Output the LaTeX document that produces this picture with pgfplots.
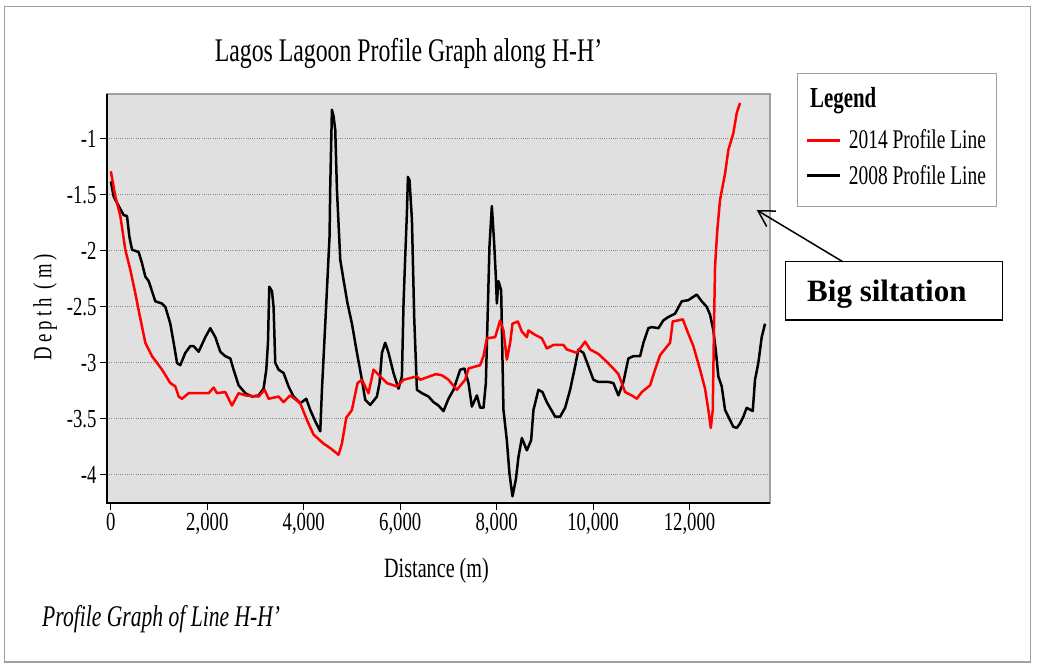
\documentclass[border=0pt]{standalone}
\usepackage{fontspec}
\setmainfont{Liberation Serif}[FakeStretch=0.72]
\newfontfamily\ylabfont{Liberation Serif}[FakeStretch=0.72,LetterSpace=16]
\newfontfamily\boxfont{Liberation Serif}
\usepackage{pgfplots}
\usepackage{pgfplotstable}
\pgfplotsset{compat=1.18}
\usetikzlibrary{arrows.meta}

\definecolor{plotbg}{HTML}{E0E0E0}
\definecolor{framegray}{HTML}{A0A0A0}
\definecolor{gridgray}{HTML}{8C8C8C}

% 2008 profile (black)
\pgfplotstableread{
x y
0 -1.38
58 -1.515
162 -1.60
265 -1.68
335 -1.69
383 -1.87
439 -1.99
576 -2.01
646 -2.11
715 -2.23
784 -2.27
853 -2.36
922 -2.45
1061 -2.47
1130 -2.50
1233 -2.65
1302 -2.82
1372 -3.00
1440 -3.02
1544 -2.91
1648 -2.85
1716 -2.85
1820 -2.90
1959 -2.77
2062 -2.69
2166 -2.77
2269 -2.90
2373 -2.94
2477 -2.96
2545 -3.06
2649 -3.20
2788 -3.27
2926 -3.30
3063 -3.29
3167 -3.23
3223 -3.06
3258 -2.82
3285 -2.32
3341 -2.36
3374 -2.50
3409 -3.00
3478 -3.06
3582 -3.09
3685 -3.21
3789 -3.30
3927 -3.36
4052 -3.32
4135 -3.42
4238 -3.52
4342 -3.61
4377 -3.24
4446 -2.65
4535 -1.87
4549 -1.43
4584 -0.74
4618 -0.80
4653 -0.92
4688 -1.455
4757 -2.08
4825 -2.26
4908 -2.47
4999 -2.65
5103 -2.91
5206 -3.15
5275 -3.33
5378 -3.375
5517 -3.30
5571 -3.18
5621 -2.91
5689 -2.82
5758 -2.91
5861 -3.09
5965 -3.23
6035 -3.12
6069 -2.47
6104 -2.05
6139 -1.66
6160 -1.34
6193 -1.37
6243 -1.72
6290 -2.59
6346 -3.24
6450 -3.27
6587 -3.30
6690 -3.35
6794 -3.38
6897 -3.43
7001 -3.32
7105 -3.24
7244 -3.06
7333 -3.05
7416 -3.18
7486 -3.39
7590 -3.29
7658 -3.40
7727 -3.40
7776 -3.18
7818 -2.50
7851 -1.96
7900 -1.60
7948 -1.93
7983 -2.23
8004 -2.47
8037 -2.27
8093 -2.35
8141 -3.42
8211 -3.69
8265 -3.985
8328 -4.19
8398 -4.04
8452 -3.84
8522 -3.67
8626 -3.78
8715 -3.69
8763 -3.42
8866 -3.24
8950 -3.26
9040 -3.35
9213 -3.48
9316 -3.48
9420 -3.40
9523 -3.24
9627 -3.03
9696 -2.88
9799 -2.91
9903 -3.03
10006 -3.15
10110 -3.17
10318 -3.17
10421 -3.18
10524 -3.29
10628 -3.17
10732 -2.96
10835 -2.94
10974 -2.94
11043 -2.82
11146 -2.69
11216 -2.68
11354 -2.69
11457 -2.62
11561 -2.59
11699 -2.56
11838 -2.45
11975 -2.44
12149 -2.39
12253 -2.45
12357 -2.50
12425 -2.57
12494 -2.71
12549 -2.91
12597 -3.12
12667 -3.21
12736 -3.42
12839 -3.51
12908 -3.57
12978 -3.58
13047 -3.54
13116 -3.48
13185 -3.40
13310 -3.43
13357 -3.15
13426 -3.00
13496 -2.77
13565 -2.65
}\profileold

% 2014 profile (red)
\pgfplotstableread{
x y
0 -1.29
93 -1.515
197 -1.69
300 -1.99
404 -2.17
508 -2.38
576 -2.53
715 -2.82
853 -2.94
1061 -3.06
1233 -3.18
1337 -3.21
1406 -3.30
1475 -3.32
1613 -3.27
2028 -3.27
2131 -3.22
2200 -3.27
2373 -3.26
2511 -3.38
2649 -3.27
2788 -3.29
3064 -3.30
3188 -3.24
3271 -3.32
3478 -3.30
3582 -3.35
3720 -3.29
3927 -3.36
4066 -3.51
4204 -3.64
4411 -3.72
4549 -3.76
4722 -3.82
4791 -3.72
4881 -3.49
4998 -3.42
5115 -3.18
5205 -3.15
5343 -3.27
5447 -3.06
5585 -3.12
5724 -3.18
5931 -3.21
6069 -3.15
6345 -3.12
6415 -3.15
6740 -3.10
6864 -3.11
7001 -3.15
7175 -3.24
7347 -3.15
7416 -3.05
7658 -3.02
7727 -2.94
7797 -2.78
7969 -2.77
8073 -2.62
8141 -2.71
8211 -2.97
8280 -2.82
8328 -2.65
8439 -2.63
8522 -2.72
8626 -2.77
8659 -2.71
8798 -2.75
8937 -2.78
9040 -2.87
9177 -2.84
9385 -2.84
9455 -2.88
9662 -2.91
9731 -2.87
9834 -2.81
9938 -2.88
10110 -2.92
10284 -2.99
10421 -3.05
10524 -3.10
10595 -3.18
10663 -3.26
10802 -3.29
10906 -3.32
11009 -3.26
11181 -3.20
11285 -3.06
11389 -2.93
11596 -2.82
11651 -2.63
11768 -2.62
11859 -2.61
11975 -2.74
12079 -2.85
12218 -3.06
12321 -3.23
12390 -3.42
12440 -3.58
12481 -3.42
12508 -2.65
12528 -2.14
12576 -1.81
12632 -1.545
12736 -1.31
12804 -1.10
12908 -0.95
12978 -0.77
13047 -0.68
}\profilenew

\begin{document}
\begin{tikzpicture}[x=1pt,y=1pt]
\useasboundingbox (0,0) rectangle (1037,666);
\fill[white] (0,0) rectangle (1037,666);
\draw[framegray, line width=1.5pt] (4.7,4) rectangle (1030.7,659.3);

\begin{axis}[
  at={(107pt,163pt)}, anchor=south west,
  width=663pt, height=409pt, scale only axis,
  xmin=-80, xmax=13668, ymin=-4.25, ymax=-0.6,
  xtick={0,2000,...,12000},
  ytick={-4,-3.5,...,-1},
  scaled x ticks=false,
  /pgf/number format/assume math mode=true,
  /pgf/number format/1000 sep={,},
  tick label style={font=\fontsize{26}{30}\selectfont},
  tick align=outside, major tick length=7pt,
  xtick pos=bottom, ytick pos=left,
  tick style={black, line width=1pt},
  axis background/.style={fill=plotbg},
  axis line style={framegray, line width=2pt},
  ymajorgrids,
  major grid style={gridgray, line width=1pt, dash pattern=on 1pt off 1.2pt},
  title={Lagos Lagoon Profile Graph along H-H'},
  title style={at={(axis description cs:0.4548,1.0636)}, anchor=base,
    inner sep=0pt, font=\fontsize{33}{36}\selectfont},
  xlabel={Distance (m)},
  xlabel style={at={(axis description cs:0.497,-0.183)}, anchor=base,
    inner sep=0pt, font=\fontsize{28}{32}\selectfont},
  ylabel={Depth (m)},
  ylabel style={at={(axis description cs:-0.0935,0.479)}, anchor=center,
    inner sep=0pt, font=\ylabfont\fontsize{26}{30}\selectfont},
  legend image code/.code={\draw[#1, line width=3pt] (0pt,0pt) -- (33pt,0pt);},
  reverse legend,
  legend cell align=left,
  legend style={at={(axis description cs:1.0538,0.913)}, anchor=north west,
    draw=none, fill=none, inner sep=0pt, column sep=7pt, row sep=15pt,
    font=\fontsize{27}{30}\selectfont, nodes={inner sep=0pt}},
  after end axis/.code={
    \draw[black, line width=1.5pt] (rel axis cs:0,1) -- (rel axis cs:0,0) -- (rel axis cs:1,0);
  },
]
\addplot[black, line width=2.5pt, line join=round] table[x=x,y=y] {\profileold};
\addlegendentry{2008 Profile Line}
\addplot[red, line width=2.5pt, line join=round] table[x=x,y=y] {\profilenew};
\addlegendentry{2014 Profile Line}
\end{axis}

% legend frame and header
\draw[framegray, line width=1.5pt] (797.3,459.3) rectangle (996.7,592.7);
\node[anchor=base west, inner sep=0pt, font=\bfseries\fontsize{29}{32}\selectfont] at (810,558) {Legend};

% annotation
\draw[black, line width=1.2pt] (785.7,346) rectangle (1002.7,404.3);
\node[anchor=base west, inner sep=0pt, font=\boxfont\bfseries\fontsize{31}{34}\selectfont] at (807,364.3) {Big siltation};
\draw[black, line width=1.5pt, -{Straight Barb[angle=60:18pt, line width=1.5pt]}] (842.7,404.3) -- (756.7,456);

% caption
\node[anchor=base west, inner sep=0pt, font=\itshape\fontsize{30}{34}\selectfont] at (42,39) {Profile Graph of Line H-H'};
\end{tikzpicture}
\end{document}
